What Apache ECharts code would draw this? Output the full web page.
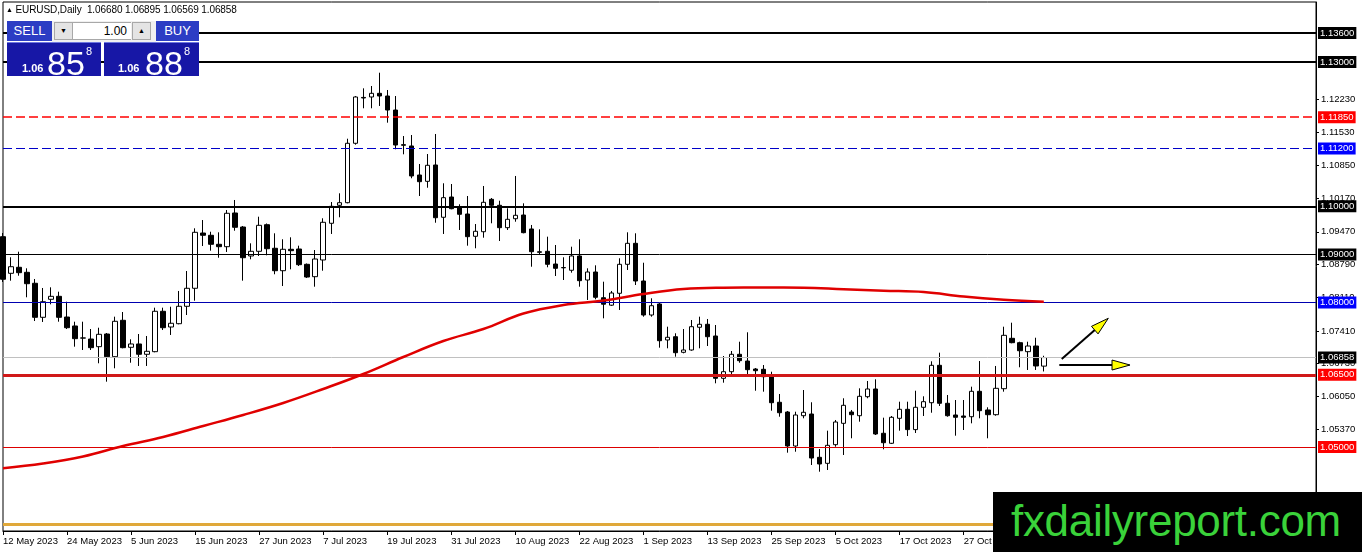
<!DOCTYPE html>
<html>
<head>
<meta charset="utf-8">
<script src="https://cdn.jsdelivr.net/npm/echarts@6/dist/echarts.min.js"></script>
<style>
html,body{margin:0;padding:0;background:#fff;}
#wrap{position:relative;width:1362px;height:552px;overflow:hidden;font-family:"Liberation Sans",Arial,sans-serif;}
#chart{position:absolute;left:0;top:0;width:1362px;height:552px;}
.abs{position:absolute;box-sizing:border-box;}
#hdr{left:6px;top:4px;font-size:10px;color:#000;white-space:pre;letter-spacing:-0.1px;}
#hdr .tri{font-size:7px;vertical-align:1px;}
.btn{background:#2c3dc4;color:#fff;font-size:13px;text-align:center;line-height:20px;height:20px;top:21px;}
#ctrl{left:52px;top:21px;width:104px;height:21px;background:#f0f0f0;}
.spin{top:22px;width:19px;height:18px;background:#e4e4e4;border:1px solid #a8a8a8;font-size:7px;text-align:center;line-height:16px;color:#000;}
#lot{left:73px;top:22px;width:58px;height:18px;background:#fff;border-top:1px solid #a8a8a8;border-bottom:1px solid #a8a8a8;font-size:12px;text-align:right;padding-right:4px;line-height:17px;color:#000;}
.px{top:42px;height:34px;background:#1717a6;color:#fff;border-top:1px solid #6d77e0;}
.px span{position:absolute;white-space:nowrap;}
.small{font-size:11px;font-weight:bold;top:19px;}
.big{font-size:34px;top:1px;}
.sup{font-size:11px;top:2px;}
#wm{left:993px;top:492px;width:369px;height:60px;background:#000;}
#wm span{position:absolute;left:18px;top:7px;font-size:44px;line-height:44px;color:#3ad23a;font-family:"Liberation Sans",Arial,sans-serif;white-space:nowrap;letter-spacing:-0.3px;}
</style>
</head>
<body>
<div id="wrap">
<div id="chart"></div>
<div id="hdr" class="abs"><span class="tri">▲</span> EURUSD,Daily  1.06680 1.06895 1.06569 1.06858</div>
<div id="ctrl" class="abs"></div>
<div class="abs btn" style="left:7px;width:45px;">SELL</div>
<div class="abs spin" style="left:54px;">▼</div>
<div id="lot" class="abs">1.00</div>
<div class="abs spin" style="left:132px;">▲</div>
<div class="abs btn" style="left:156px;width:43px;">BUY</div>
<div class="abs px" style="left:7px;width:94px;"><span class="small" style="left:15px;">1.06</span><span class="big" style="left:40px;">85</span><span class="sup" style="left:79px;">8</span></div>
<div class="abs px" style="left:104px;width:95px;"><span class="small" style="left:14px;">1.06</span><span class="big" style="left:41px;">88</span><span class="sup" style="left:80px;">8</span></div>
<div id="wm" class="abs"><span>fxdailyreport.com</span></div>
</div>
<script>
// ---- categories (weekday bars, plus empty future bars for the chart shift area) ----
const dates = [
"12 May 2023","15 May 2023","16 May 2023","17 May 2023","18 May 2023","19 May 2023","22 May 2023","23 May 2023","24 May 2023","25 May 2023","26 May 2023","29 May 2023","30 May 2023","31 May 2023",
"1 Jun 2023","2 Jun 2023","5 Jun 2023","6 Jun 2023","7 Jun 2023","8 Jun 2023","9 Jun 2023","12 Jun 2023","13 Jun 2023","14 Jun 2023","15 Jun 2023","16 Jun 2023","19 Jun 2023","20 Jun 2023","21 Jun 2023","22 Jun 2023","23 Jun 2023","26 Jun 2023","27 Jun 2023","28 Jun 2023","29 Jun 2023","30 Jun 2023",
"3 Jul 2023","4 Jul 2023","5 Jul 2023","6 Jul 2023","7 Jul 2023","10 Jul 2023","11 Jul 2023","12 Jul 2023","13 Jul 2023","14 Jul 2023","17 Jul 2023","18 Jul 2023","19 Jul 2023","20 Jul 2023","21 Jul 2023","24 Jul 2023","25 Jul 2023","26 Jul 2023","27 Jul 2023","28 Jul 2023","31 Jul 2023",
"1 Aug 2023","2 Aug 2023","3 Aug 2023","4 Aug 2023","7 Aug 2023","8 Aug 2023","9 Aug 2023","10 Aug 2023","11 Aug 2023","14 Aug 2023","15 Aug 2023","16 Aug 2023","17 Aug 2023","18 Aug 2023","21 Aug 2023","22 Aug 2023","23 Aug 2023","24 Aug 2023","25 Aug 2023","28 Aug 2023","29 Aug 2023","30 Aug 2023","31 Aug 2023",
"1 Sep 2023","4 Sep 2023","5 Sep 2023","6 Sep 2023","7 Sep 2023","8 Sep 2023","11 Sep 2023","12 Sep 2023","13 Sep 2023","14 Sep 2023","15 Sep 2023","18 Sep 2023","19 Sep 2023","20 Sep 2023","21 Sep 2023","22 Sep 2023","25 Sep 2023","26 Sep 2023","27 Sep 2023","28 Sep 2023","29 Sep 2023",
"2 Oct 2023","3 Oct 2023","4 Oct 2023","5 Oct 2023","6 Oct 2023","9 Oct 2023","10 Oct 2023","11 Oct 2023","12 Oct 2023","13 Oct 2023","16 Oct 2023","17 Oct 2023","18 Oct 2023","19 Oct 2023","20 Oct 2023","23 Oct 2023","24 Oct 2023","25 Oct 2023","26 Oct 2023","27 Oct 2023","30 Oct 2023","31 Oct 2023",
"1 Nov 2023","2 Nov 2023","3 Nov 2023","6 Nov 2023","7 Nov 2023","8 Nov 2023","9 Nov 2023","10 Nov 2023",
"13 Nov 2023","14 Nov 2023","15 Nov 2023","16 Nov 2023","17 Nov 2023","20 Nov 2023","21 Nov 2023","22 Nov 2023","23 Nov 2023","24 Nov 2023","27 Nov 2023","28 Nov 2023","29 Nov 2023","30 Nov 2023",
"1 Dec 2023","4 Dec 2023","5 Dec 2023","6 Dec 2023","7 Dec 2023","8 Dec 2023","11 Dec 2023","12 Dec 2023","13 Dec 2023","14 Dec 2023","15 Dec 2023","18 Dec 2023","19 Dec 2023","20 Dec 2023","21 Dec 2023","22 Dec 2023","25 Dec 2023","26 Dec 2023","27 Dec 2023","28 Dec 2023"
];

// ---- daily OHLC (EURUSD) ----
const opens = [
1.09369,1.08608,1.08733,1.08629,1.08401,1.07694,1.08068,1.08130,1.07700,1.07514,
1.07262,1.07243,1.07084,1.07347,1.06876,1.07632,1.07071,1.07140,1.06926,1.06980,
1.07819,1.07493,1.07561,1.07923,1.08297,1.09445,1.09398,1.09211,1.09161,1.09861,
1.09570,1.08968,1.09065,1.09618,1.09128,1.08662,1.09107,1.09113,1.08795,1.08538,
1.08885,1.09647,1.10021,1.10075,1.11309,1.12262,1.12271,1.12347,1.12291,1.12000,
1.11280,1.11253,1.10650,1.10519,1.10858,1.09772,1.10193,1.09971,1.09840,1.09377,
1.09472,1.10145,1.10021,1.09556,1.09742,1.09819,1.09529,1.09055,1.09065,1.08801,
1.08728,1.08671,1.08968,1.08469,1.08635,1.08101,1.07946,1.08193,1.08795,1.09231,
1.08448,1.07742,1.07971,1.07223,1.07291,1.06967,1.07015,1.07487,1.07549,1.07306,
1.06427,1.06564,1.06926,1.06786,1.06620,1.06614,1.06475,1.05929,1.05727,1.05021,
1.05650,1.05685,1.04786,1.04661,1.05048,1.05492,1.05727,1.05650,1.06045,1.06205,
1.05285,1.05077,1.05596,1.05783,1.05361,1.05825,1.05920,1.06697,1.05908,1.05665,
1.05644,1.05629,1.06157,1.05769,1.05671,1.06211,1.07258,1.07167,1.06980,1.07098,
1.06680];
const highs = [
1.09445,1.08941,1.09057,1.08712,1.08490,1.08303,1.08317,1.08226,1.08018,1.07603,
1.07603,1.07451,1.07478,1.07368,1.07707,1.07804,1.07237,1.07347,1.07306,1.07894,
1.07894,1.07914,1.08241,1.08656,1.09543,1.09715,1.09472,1.09460,1.09923,1.10131,
1.09591,1.09231,1.09784,1.09643,1.09439,1.09315,1.09356,1.09182,1.08812,1.09092,
1.09751,1.10089,1.10270,1.11404,1.12291,1.12451,1.12499,1.12775,1.12416,1.12291,
1.11460,1.11481,1.10879,1.11086,1.11502,1.10478,1.10463,1.10042,1.10214,1.09632,
1.10422,1.10172,1.10116,1.09958,1.10630,1.10062,1.09612,1.09522,1.09369,1.09196,
1.08941,1.09161,1.09315,1.08712,1.08774,1.08434,1.08241,1.08920,1.09460,1.09439,
1.08828,1.08089,1.07998,1.07499,1.07362,1.07451,1.07638,1.07707,1.07659,1.07534,
1.06890,1.06994,1.07187,1.07383,1.06641,1.06703,1.06564,1.06101,1.05748,1.05733,
1.06184,1.05929,1.04958,1.05339,1.05561,1.06012,1.05769,1.06219,1.06371,1.06406,
1.05609,1.05644,1.05941,1.05941,1.06169,1.06053,1.06780,1.06959,1.06080,1.05976,
1.05976,1.06253,1.06786,1.05825,1.06683,1.07499,1.07582,1.07187,1.07187,1.07270,
1.06895];
const lows = [
1.08428,1.08455,1.08558,1.08110,1.07617,1.07597,1.07964,1.07603,1.07451,1.07084,
1.07015,1.07015,1.06739,1.06357,1.06635,1.07050,1.06751,1.06683,1.06683,1.06967,
1.07430,1.07327,1.07549,1.07742,1.08039,1.09175,1.09078,1.08932,1.09051,1.09493,
1.08455,1.08899,1.08968,1.08982,1.08588,1.08344,1.08691,1.08760,1.08511,1.08330,
1.08662,1.09425,1.09772,1.10062,1.11280,1.12036,1.12036,1.12084,1.11737,1.11184,
1.11080,1.10582,1.10214,1.10386,1.09659,1.09425,1.09938,1.09508,1.09182,1.09128,
1.09348,1.09647,1.09279,1.09508,1.09680,1.09439,1.08745,1.08988,1.08733,1.08552,
1.08469,1.08621,1.08330,1.08054,1.08068,1.07673,1.07929,1.07846,1.08677,1.08365,
1.07707,1.07707,1.07063,1.07050,1.06876,1.06946,1.07000,1.07050,1.07098,1.06323,
1.06336,1.06516,1.06751,1.06516,1.06169,1.06149,1.05754,1.05629,1.04882,1.04902,
1.05596,1.04626,1.04487,1.04522,1.05006,1.04834,1.05181,1.05526,1.06012,1.05249,
1.04952,1.05062,1.05339,1.05228,1.05291,1.05644,1.05712,1.05852,1.05629,1.05235,
1.05353,1.05492,1.05596,1.05181,1.05650,1.06149,1.07154,1.06656,1.06600,1.06600,
1.06569];
const closes = [
1.08484,1.08745,1.08621,1.08392,1.07694,1.08018,1.08130,1.07694,1.07478,1.07250,
1.07266,1.07063,1.07341,1.06876,1.07611,1.07063,1.07140,1.06926,1.06988,1.07819,
1.07478,1.07570,1.07923,1.08297,1.09460,1.09398,1.09211,1.09161,1.09855,1.09564,
1.08932,1.09065,1.09605,1.09119,1.08662,1.09107,1.09078,1.08787,1.08531,1.08905,
1.09668,1.10000,1.10075,1.11309,1.12271,1.12250,1.12347,1.12291,1.12000,1.11273,
1.11268,1.10630,1.10511,1.10852,1.09763,1.10179,1.09950,1.09834,1.09369,1.09481,
1.10083,1.10021,1.09556,1.09730,1.09813,1.09452,1.09057,1.09045,1.08795,1.08712,
1.08722,1.08968,1.08455,1.08635,1.08110,1.07966,1.08199,1.08795,1.09231,1.08448,
1.07742,1.07935,1.07208,1.07279,1.06959,1.07015,1.07499,1.07549,1.07291,1.06427,
1.06564,1.06926,1.06793,1.06606,1.06585,1.06460,1.05920,1.05712,1.05021,1.05665,
1.05721,1.04771,1.04647,1.05035,1.05519,1.05866,1.05671,1.06053,1.06205,1.05270,
1.05089,1.05617,1.05783,1.05361,1.05825,1.05941,1.06697,1.05908,1.05650,1.05617,
1.05617,1.06157,1.05754,1.05671,1.06219,1.07320,1.07167,1.07000,1.07098,1.06683,
1.06858];

// ---- moving average read every 5 bars (bar index, price) ----
const maBars   = [0,5,10,15,20,25,30,35,40,45,50,55,60,65,70,75,80,85,90,95,100,105,110,115,120,125,130];
const maValues = [1.04558,1.04657,1.04803,1.05021,1.05208,1.05436,1.05665,1.05914,1.06205,1.06516,
                  1.06870,1.07202,1.07451,1.07773,1.07950,1.08043,1.08178,1.08282,1.08309,1.08313,
                  1.08309,1.08276,1.08247,1.08220,1.08126,1.08060,1.08018];

// ---- price-axis tick labels ----
const yTicks = [1.04670,1.05370,1.06050,1.06730,1.07410,1.08110,1.08790,1.09470,1.10170,1.10850,1.11530,1.12230,1.12910];

// ---- horizontal levels ----
const levelPrices = [1.13600,1.13000,1.11850,1.11200,1.10000,1.09000,1.08000,1.06858,1.06500,1.05000,1.03400];
const levelKinds  = ['black2','black2','redDash','blueDash','black2','black1','blue1','bid','red3','red1','orange'];

// ---- annotation arrows: [fromBar, fromPrice, toBar, toPrice] ----
const arrowsData = [
  [132.24,1.06828,138.06,1.07674],
  [131.94,1.06703,140.77,1.06703]
];

const kindStyle = {
  black2:{line:'#000000',w:2,type:'solid',box:'#000000'},
  black1:{line:'#000000',w:1,type:'solid',box:'#000000'},
  redDash:{line:'#ff0000',w:1.5,type:[9,4],box:'#ff0000'},
  blueDash:{line:'#0000c8',w:1.2,type:[9,4],box:'#0000ff'},
  blue1:{line:'#0000b0',w:1,type:'solid',box:'#0000ff'},
  bid:{line:'#c0c0c0',w:1,type:'solid',box:'#000000'},
  red3:{line:'#d01818',w:3,type:'solid',box:'#ff0000'},
  red1:{line:'#dd0000',w:1,type:'solid',box:'#ff0000'},
  orange:{line:'#e0a83a',w:3,type:'solid',box:null}
};

const candleData = opens.map((o,i)=>[o, closes[i], lows[i], highs[i]]);
const maData = maBars.map((b,i)=>[b, maValues[i]]);

const markData = levelPrices.map((p,i)=>{
  const s = kindStyle[levelKinds[i]];
  return {
    yAxis:p,
    lineStyle:{color:s.line,width:s.w,type:s.type},
    label: s.box ? {show:true,position:'end',distance:2,formatter:p.toFixed(5),
      backgroundColor:s.box,color:'#ffffff',fontSize:9.5,fontFamily:'Liberation Sans',
      padding:[1,2,0,2],lineHeight:11} : {show:false}
  };
});

const chart = echarts.init(document.getElementById('chart'), null, {renderer:'canvas'});
const FONT = 'Liberation Sans';
chart.setOption({
  animation:false,
  backgroundColor:'#ffffff',
  grid:{left:3,right:46,top:2,bottom:21,show:true,borderColor:'#000',borderWidth:1,containLabel:false,outerBoundsMode:'none'},
  xAxis:[
    {type:'category',data:dates,boundaryGap:false,
     axisLine:{show:true,onZero:false,lineStyle:{color:'#000',width:1}},
     axisTick:{show:true,interval:7,length:4,lineStyle:{color:'#000'}},
     axisLabel:{interval:7,align:'left',margin:5,fontSize:9.5,color:'#000',fontFamily:FONT,showMaxLabel:false,hideOverlap:false},
     splitLine:{show:false}},
    {type:'value',min:0,max:164,show:false,splitLine:{show:false},axisLine:{onZero:false}}
  ],
  yAxis:{type:'value',position:'right',min:1.03255,max:1.14244,scale:true,
     splitLine:{show:false},
     axisLine:{show:true,onZero:false,lineStyle:{color:'#000',width:1}},
     axisTick:{show:true,length:3,customValues:yTicks,lineStyle:{color:'#000'}},
     axisLabel:{customValues:yTicks,formatter:v=>Number(v).toFixed(5),fontSize:9.5,margin:5,color:'#000',fontFamily:FONT,showMinLabel:false,showMaxLabel:false}},
  series:[
    {type:'candlestick',name:'EURUSD',data:candleData,barWidth:5,clip:true,z:3,
     itemStyle:{color:'#ffffff',color0:'#000000',borderColor:'#000000',borderColor0:'#000000',borderColorDoji:'#000000',borderWidth:1},
     markLine:{silent:true,symbol:['none','none'],precision:5,animation:false,data:markData,z:4}},
    {type:'line',name:'MA',xAxisIndex:1,yAxisIndex:0,data:maData,smooth:0.4,showSymbol:false,
     lineStyle:{color:'#e00000',width:2.5},z:5,silent:true},
    {type:'custom',name:'arrows',xAxisIndex:1,yAxisIndex:0,data:arrowsData,z:6,silent:true,
     encode:{x:[0,2],y:[1,3]},
     renderItem:function(params,api){
       const p1 = api.coord([api.value(0),api.value(1)]);
       const p2 = api.coord([api.value(2),api.value(3)]);
       const ang = Math.atan2(p2[1]-p1[1],p2[0]-p1[0]);
       const L = 18, W = 5;
       const bx = p2[0]-L*Math.cos(ang), by = p2[1]-L*Math.sin(ang);
       const nx = -Math.sin(ang)*W, ny = Math.cos(ang)*W;
       return {type:'group',children:[
         {type:'line',shape:{x1:p1[0],y1:p1[1],x2:bx,y2:by},style:{stroke:'#000',lineWidth:2}},
         {type:'polygon',shape:{points:[[p2[0],p2[1]],[bx+nx,by+ny],[bx-nx,by-ny]]},style:{fill:'#ffff00',stroke:'#000',lineWidth:1}}
       ]};
     }}
  ]
});
</script>
</body>
</html>
